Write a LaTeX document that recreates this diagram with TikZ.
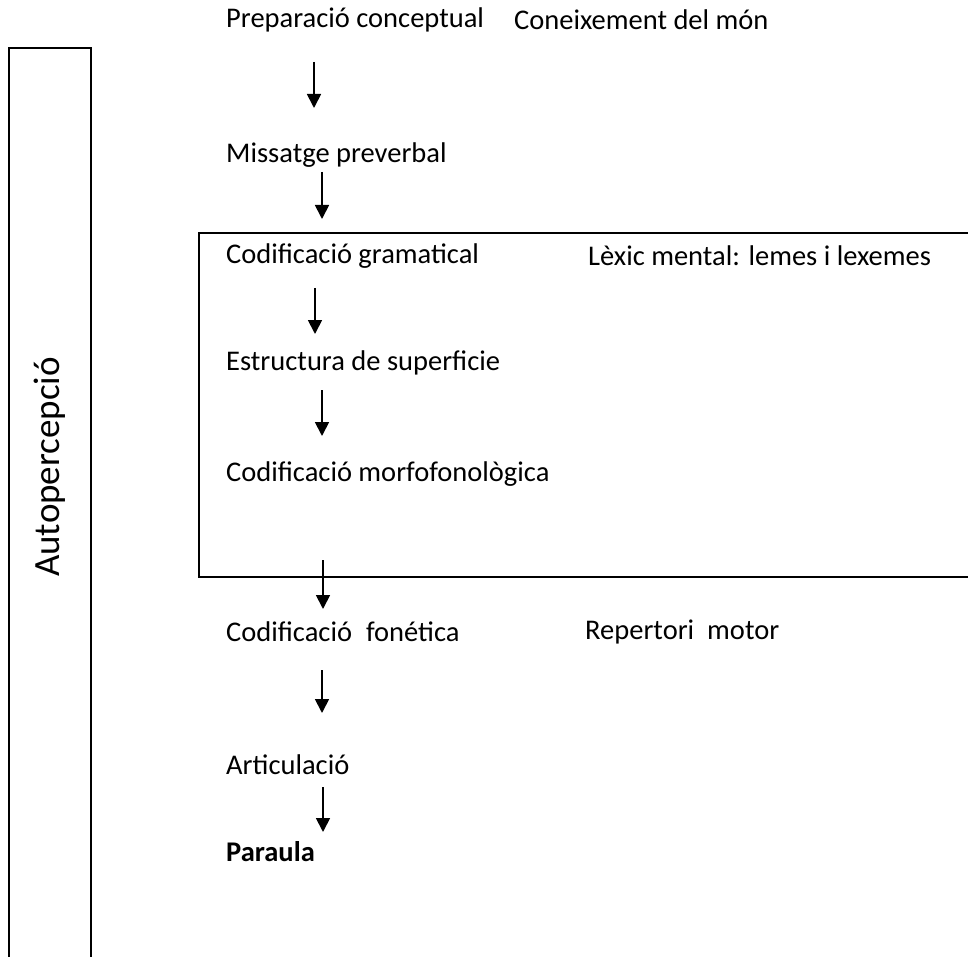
\documentclass[tikz,border=0pt]{standalone}
\usepackage{fontspec}
\setmainfont{Carlito}
\usetikzlibrary{arrows.meta}
\begin{document}
\begin{tikzpicture}[x=1pt,y=-1pt,
  txt/.style={font=\fontsize{28.5}{33}\selectfont},
  lbl/.style={txt,anchor=west,inner sep=0pt},
  flow/.style={line width=1.8pt,-{Triangle[length=14pt,width=14pt]}},
  frame/.style={line width=1.8pt}]
\useasboundingbox (0,0) rectangle (968,957);
% text labels
\node[lbl] (prep) at (226,20) {Preparació conceptual};
\node[lbl] (mon) at (514,20) {Coneixement del món};
\node[lbl] (miss) at (226,155) {Missatge preverbal};
\node[lbl] (gram) at (226,256) {Codificació gramatical};
\node[lbl] (lex) at (588,256) {Lèxic mental: lemes i lexemes};
\node[lbl] (sup) at (226,363) {Estructura de superficie};
\node[lbl] (morf) at (226,474) {Codificació morfofonològica};
\node[lbl] (fon) at (226,632) {Codificació\hspace{14pt}fonética};
\node[lbl] (rep) at (585,632) {Repertori\hspace{13pt}motor};
\node[lbl] (art) at (226,765) {Articulació};
\node[lbl,font=\fontsize{28.5}{33}\selectfont\bfseries] (par) at (226,852) {Paraula};
\node[rotate=90,inner sep=0pt,font=\fontsize{37}{40}\selectfont] (auto) at (50,467) {Autopercepció};
% frames
\draw[frame] (9,975) -- (9,48) -- (91,48) -- (91,975);
\draw[frame] (975,233) -- (199,233) -- (199,577) -- (975,577);
% arrows between stages
\coordinate (a1s) at (314,62); \coordinate (a1e) at (314,108);
\coordinate (a2s) at (322,172); \coordinate (a2e) at (322,219);
\coordinate (a3s) at (315,288); \coordinate (a3e) at (315,334);
\coordinate (a4s) at (322,390); \coordinate (a4e) at (322,436);
\coordinate (a5s) at (323,560); \coordinate (a5e) at (323,609);
\coordinate (a6s) at (322,670); \coordinate (a6e) at (322,713);
\coordinate (a7s) at (323,787); \coordinate (a7e) at (323,832);
\foreach \i in {1,...,7} {\draw[flow] (a\i s) -- (a\i e);}
\end{tikzpicture}
\end{document}
